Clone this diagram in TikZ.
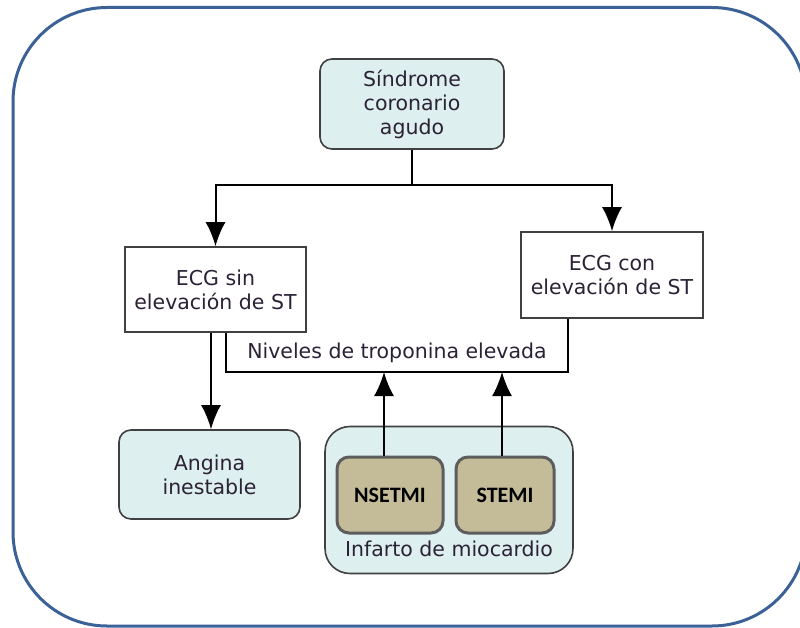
\documentclass[tikz,border=0pt]{standalone}
\usepackage{fontspec}
\setmainfont{DejaVu Sans}
\newfontfamily\negrita{Carlito}
\usetikzlibrary{
		calc,
		positioning,
		arrows.meta
	}
\definecolor{marco}{HTML}{3B6196}
\definecolor{celeste}{HTML}{DDEFEF}
\definecolor{caqui}{HTML}{C4BC98}
\definecolor{borde}{HTML}{404040}
\definecolor{texto}{HTML}{2C2236}
\tikzset{
		>={Latex[length=24pt,width=20pt]},
		caja/.style={draw=borde, line width=1.6pt, fill=white, align=center, text=texto, inner sep=0pt},
		redonda/.style={caja, fill=celeste, rounded corners=12pt},
		tipo/.style={draw=borde!85, fill=caqui, line width=3pt, rounded corners=12pt, minimum height=76pt, text=black, font=\negrita\bfseries\fontsize{22}{26}\selectfont}
	}

\begin{document}
\begin{tikzpicture}[x=1pt, y=-1pt, font=\fontsize{20.5}{24}\selectfont, line width=2pt] % 1 unit = 1 pixel of the reference
		\useasboundingbox (0,0) rectangle (800,628);
		\draw[marco, line width=3pt, rounded corners=94pt] (13,7.5) rectangle (806,626); % outer frame
		\node[redonda, minimum width=184pt, minimum height=90pt] (sca) at (412,104) {Síndrome\\coronario\\agudo};
		\node[caja, minimum width=181pt, minimum height=85pt] (sin) at (215.5,289.5) {ECG sin\\elevación de ST};
		\node[caja, minimum width=182pt, minimum height=86pt] (con) at (612,275) {ECG con\\elevación de ST};
		\node[redonda, minimum width=181pt, minimum height=89pt] (angina) at (209.5,474.5) {Angina\\inestable};
		\node[redonda, rounded corners=25pt, minimum width=248pt, minimum height=147pt] (grupo) at (449,500) {};
		\node[tipo, minimum width=106pt] (nse) at (390,495) {NSETMI};
		\node[tipo, minimum width=98pt, right=10pt of nse] (ste) {STEMI};
		\node[text=texto] (infarto) at (449,549) {Infarto de miocardio};
		\node[text=texto] (nivel) at (397,353) {Niveles de troponina elevada};
		\coordinate (rama) at (sca.south |- 0,185);
		\coordinate (baseT) at (397,372);
		\draw (sca) -- (rama);
		\draw[->] (rama) -| (sin);
		\draw[->] (rama) -| (con);
		\draw ([xshift=10pt]sin.south) |- (baseT) -| ([xshift=-44pt]con.south); % troponin bracket
		\draw[->] ([xshift=-4.5pt]sin.south) -- ([xshift=-4.5pt]sin.south |- angina.north);
		\draw[->] ([xshift=-6pt]nse.north) -- ([xshift=-6pt]nse.north |- baseT);
		\draw[->] ([xshift=-3pt]ste.north) -- ([xshift=-3pt]ste.north |- baseT);
	\end{tikzpicture}
\end{document}
